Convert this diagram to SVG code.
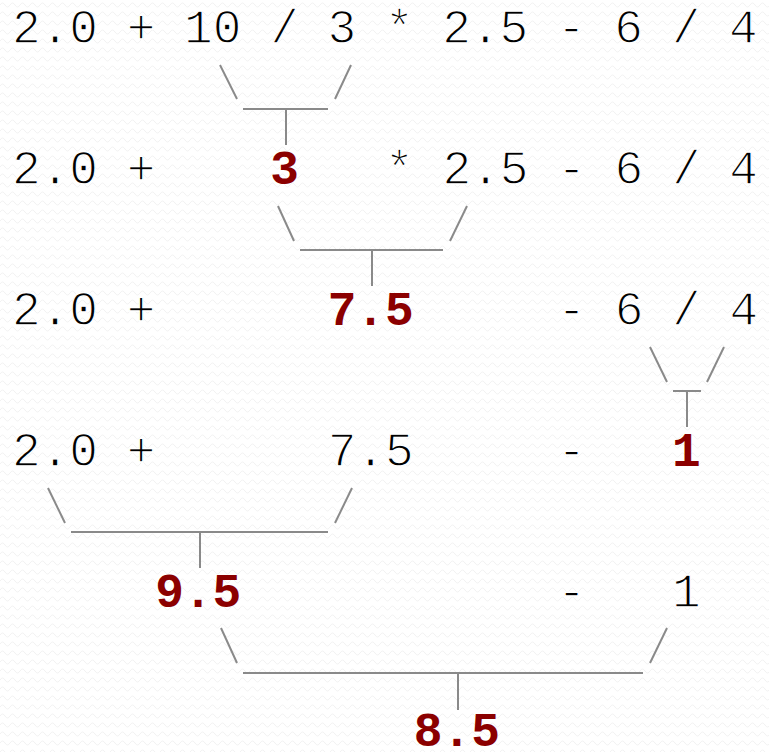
<svg xmlns="http://www.w3.org/2000/svg" width="769" height="752" viewBox="0 0 769 752">
<defs>
<pattern id="bg" width="10" height="9" patternUnits="userSpaceOnUse">
<path d="M0 5 Q2.5 1 5 5 T10 5" fill="none" stroke="#f1f1f1" stroke-width="1"/>
</pattern>
<style>
.t{font-family:"Liberation Mono","Courier New",monospace;font-size:47.8px;fill:#000;stroke:#fff;stroke-width:1.3px;white-space:pre}
.r{font-family:"Liberation Mono","Courier New",monospace;font-size:47.8px;font-weight:bold;fill:#8B0000;white-space:pre}
.c line{stroke:#8a8a8a;stroke-width:2;fill:none}
</style>
</defs>
<rect width="769" height="752" fill="#fff"/>
<rect width="769" height="752" fill="url(#bg)"/>

<g id="row1"><text class="t" x="12" y="43" xml:space="preserve">2.0 + 10 / 3 * 2.5 - 6 / 4</text></g>

<g id="row2">
<text class="t" x="12" y="184" xml:space="preserve">2.0 +</text>
<text class="t" x="385.1" y="184" xml:space="preserve">* 2.5 - 6 / 4</text>
</g>
<g id="val3"><text class="r" x="270.3" y="184">3</text></g>

<g id="row3">
<text class="t" x="12" y="325" xml:space="preserve">2.0 +</text>
<text class="t" x="557.3" y="325" xml:space="preserve">- 6 / 4</text>
</g>
<g id="val7_5"><text class="r" x="327.7" y="325">7.5</text></g>

<g id="row4">
<text class="t" x="12" y="466" xml:space="preserve">2.0 +</text>
<text class="t" x="327.7" y="466">7.5</text>
<text class="t" x="557.3" y="466">-</text>
</g>
<g id="val1"><text class="r" x="672.1" y="466">1</text></g>

<g id="row5">
<text class="t" x="557.3" y="607">-</text>
<text class="t" x="672.1" y="607">1</text>
</g>
<g id="val9_5"><text class="r" x="155.2" y="607">9.5</text></g>

<g id="val8_5"><text class="r" x="413.8" y="746">8.5</text></g>

<g id="connectors" class="c">
<line x1="220" y1="65" x2="237" y2="99"/>
<line x1="351" y1="65" x2="335" y2="99"/>
<line x1="243" y1="109" x2="328" y2="109"/>
<line x1="286" y1="109" x2="286" y2="145"/>

<line x1="278" y1="206" x2="294" y2="241"/>
<line x1="467" y1="206" x2="450" y2="241"/>
<line x1="300" y1="250" x2="443" y2="250"/>
<line x1="372" y1="250" x2="372" y2="286"/>

<line x1="650" y1="347" x2="667" y2="382"/>
<line x1="724" y1="347" x2="707" y2="382"/>
<line x1="673" y1="391" x2="701" y2="391"/>
<line x1="687" y1="391" x2="687" y2="427"/>

<line x1="48" y1="488" x2="65" y2="523"/>
<line x1="352" y1="488" x2="335" y2="523"/>
<line x1="71" y1="532" x2="328" y2="532"/>
<line x1="200" y1="532" x2="200" y2="568"/>

<line x1="221" y1="628" x2="237" y2="663"/>
<line x1="667" y1="628" x2="650" y2="663"/>
<line x1="243" y1="673" x2="643" y2="673"/>
<line x1="458" y1="673" x2="458" y2="710"/>
</g>
</svg>
